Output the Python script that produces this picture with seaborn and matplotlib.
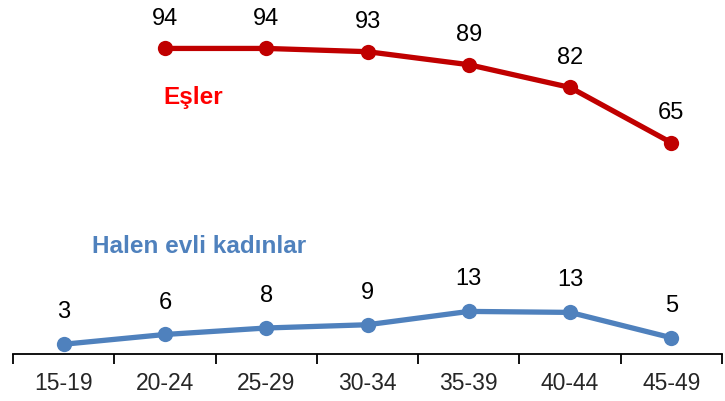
import matplotlib
matplotlib.use("Agg")
import matplotlib.pyplot as plt
import seaborn as sns
import pandas as pd
import numpy as np

categories = ["15-19", "20-24", "25-29", "30-34", "35-39", "40-44", "45-49"]
esler = [np.nan, 94, 94, 93, 89, 82, 65]
halen = [3, 6, 8, 9, 13.1, 12.8, 5]

sns.set_theme(style="white")
plt.rcParams['font.family'] = ['Liberation Sans', 'DejaVu Sans']

fig = plt.figure(figsize=(7.25, 4.01), dpi=100)
ax = fig.add_axes([13/725, 47/401, 709/725, 354/401])

x = np.arange(len(categories))
df = pd.DataFrame({"x": x, "Eşler": esler, "Halen": halen})

red = "#C00000"
blue = "#4F81BD"
d1 = df.dropna(subset=["Eşler"])
sns.lineplot(data=d1, x="x", y="Eşler", ax=ax, color=red, linewidth=3.8,
             marker="o", markersize=11, markeredgewidth=0)
sns.lineplot(data=df, x="x", y="Halen", ax=ax, color=blue, linewidth=3.8,
             marker="o", markersize=11, markeredgewidth=0)

for xi, v in zip(x, esler):
    if not np.isnan(v):
        ax.annotate(f"{round(v):d}", (xi, v), xytext=(0, 21.5), textcoords="offset points",
                    ha="center", va="center", fontsize=17, color="black")
for xi, v in zip(x, halen):
    ax.annotate(f"{round(v):d}", (xi, v), xytext=(0, 23), textcoords="offset points",
                ha="center", va="center", fontsize=17, color="black")

ax.text(1.28, 79, "Eşler", color="#FF0000", fontsize=17.5, fontweight="bold",
        ha="center", va="center")
ax.text(1.34, 33, "Halen evli kadınlar", color=blue, fontsize=17.5, fontweight="bold",
        ha="center", va="center")

ax.set_xlim(-0.5, 6.5)
ax.set_ylim(0, 108.9)
ax.set_xticks(np.arange(-0.5, 7.0, 1.0))
ax.set_xticklabels([])
ax.set_xticks(x, minor=True)
ax.set_xticklabels(categories, minor=True, fontsize=16.5)
ax.tick_params(axis="x", which="major", length=7, width=1.3, color="black", direction="out", bottom=True)
ax.tick_params(axis="x", which="minor", length=0, pad=13)
ax.set_yticks([])
ax.set_xlabel("")
ax.set_ylabel("")
for s in ["top", "left", "right"]:
    ax.spines[s].set_visible(False)
ax.spines["bottom"].set_color("black")
ax.spines["bottom"].set_linewidth(1.3)
ax.patch.set_alpha(0)

fig.savefig("out.png", dpi=100)
